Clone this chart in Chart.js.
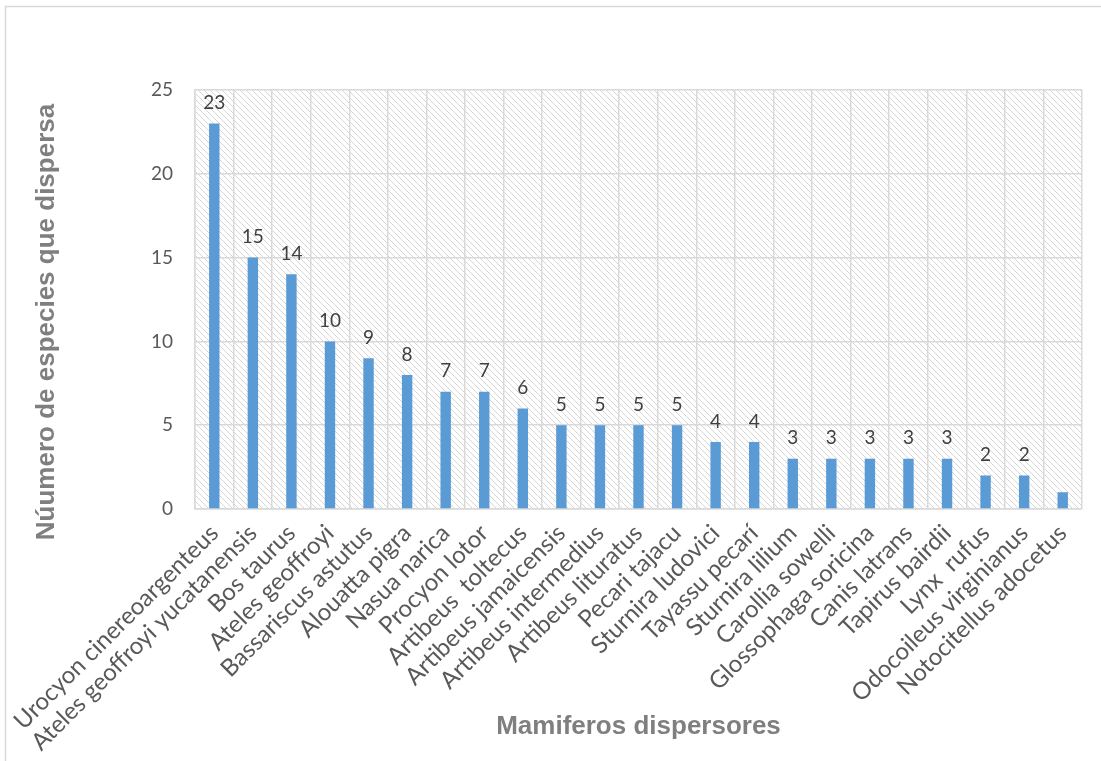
<!DOCTYPE html>
<html>
<head>
<meta charset="utf-8">
<script src="https://cdn.jsdelivr.net/npm/chart.js@4.4.1/dist/chart.umd.min.js"></script>
<style>
  html, body { margin: 0; padding: 0; background: #fff; }
  #wrap { width: 1101px; height: 761px; position: relative; }
</style>
</head>
<body>
<div id="wrap"><canvas id="dispersoresChart" width="1101" height="761"></canvas></div>
<script>
// data
const species = [
    'Urocyon cinereoargenteus', 'Ateles geoffroyi yucatanensis', 'Bos taurus',
    'Ateles geoffroyi', 'Bassariscus astutus', 'Alouatta pigra', 'Nasua narica',
    'Procyon lotor', 'Artibeus  toltecus', 'Artibeus jamaicensis',
    'Artibeus intermedius', 'Artibeus lituratus', 'Pecari tajacu',
    'Sturnira ludovici', 'Tayassu pecarí', 'Sturnira lilium', 'Carollia sowelli',
    'Glossophaga soricina', 'Canis latrans', 'Tapirus bairdii', 'Lynx  rufus',
    'Odocoileus virginianus', 'Notocitellus adocetus'
];
const dispersedSpecies = [23, 15, 14, 10, 9, 8, 7, 7, 6, 5, 5, 5, 5, 4, 4, 3, 3, 3, 3, 3, 2, 2, 1];
const yTicks = [0, 5, 10, 15, 20, 25];

const yTitle = 'Núumero de especies que dispersa';
const xTitle = 'Mamiferos dispersores';

// hatch pattern for the plot background
function makeHatch() {
    const c = document.createElement('canvas');
    c.width = 6; c.height = 6;
    const g = c.getContext('2d');
    g.strokeStyle = '#d6d6d6';
    g.lineWidth = 1;
    g.beginPath();
    g.moveTo(-1, -1); g.lineTo(7, 7);
    g.moveTo(-1, 5); g.lineTo(1, 7);
    g.moveTo(5, -1); g.lineTo(7, 1);
    g.stroke();
    return c;
}

const decorPlugin = {
    id: 'decor',
    beforeDraw(chart) {
        const ctx = chart.ctx;
        const a = chart.chartArea;
        ctx.save();
        ctx.strokeStyle = '#d9d9d9';
        ctx.lineWidth = 1.5;
        ctx.strokeRect(5.5, 6.5, 1110, 770);
        ctx.fillStyle = ctx.createPattern(makeHatch(), 'repeat');
        ctx.fillRect(a.left, a.top, a.right - a.left, a.bottom - a.top);
        ctx.restore();
    },
    afterDraw(chart) {
        const ctx = chart.ctx;
        const a = chart.chartArea;
        ctx.save();
        // value labels (the last bar has none in the original)
        ctx.font = '19px Lato';
        ctx.fillStyle = '#404040';
        ctx.textAlign = 'center';
        ctx.textBaseline = 'bottom';
        chart.getDatasetMeta(0).data.forEach((bar, i) => {
            if (dispersedSpecies[i] < 2) return;
            ctx.fillText(String(dispersedSpecies[i]), bar.x, bar.y - 11);
        });
        // axis titles
        ctx.font = 'bold 26px "Liberation Sans"';
        ctx.fillStyle = '#7f7f7f';
        ctx.textBaseline = 'middle';
        ctx.fillText(xTitle, (a.left + a.right) / 2, 727);
        ctx.translate(47, 322);
        ctx.rotate(-Math.PI / 2);
        ctx.fillText(yTitle, 0, 0);
        ctx.restore();
    }
};

new Chart(document.getElementById('dispersoresChart'), {
    type: 'bar',
    data: {
        labels: species,
        datasets: [{
            data: dispersedSpecies,
            backgroundColor: '#5b9bd5',
            categoryPercentage: 1,
            barPercentage: 0.27
        }]
    },
    options: {
        responsive: false,
        animation: false,
        layout: { padding: { top: 90, right: 19, left: 0, bottom: 0 } },
        plugins: { legend: { display: false }, tooltip: { enabled: false } },
        scales: {
            x: {
                afterFit(scale) { scale.height = 252; },
                grid: { color: '#d9d9d9', lineWidth: 1.5, drawTicks: false, offset: true },
                border: { color: '#d9d9d9', width: 1.5 },
                ticks: {
                    color: '#595959',
                    font: { family: 'Lato', size: 24 },
                    minRotation: 45, maxRotation: 45,
                    autoSkip: false,
                    padding: 10
                }
            },
            y: {
                min: 0, max: 25,
                afterFit(scale) { scale.width = 195; },
                afterBuildTicks(scale) { scale.ticks = yTicks.map(v => ({ value: v })); },
                grid: { color: '#d9d9d9', lineWidth: 1.5, drawTicks: false },
                border: { color: '#d9d9d9', width: 1.5 },
                ticks: {
                    color: '#595959',
                    font: { family: 'Lato', size: 19 },
                    padding: 22
                }
            }
        }
    },
    plugins: [decorPlugin]
});
</script>
</body>
</html>
